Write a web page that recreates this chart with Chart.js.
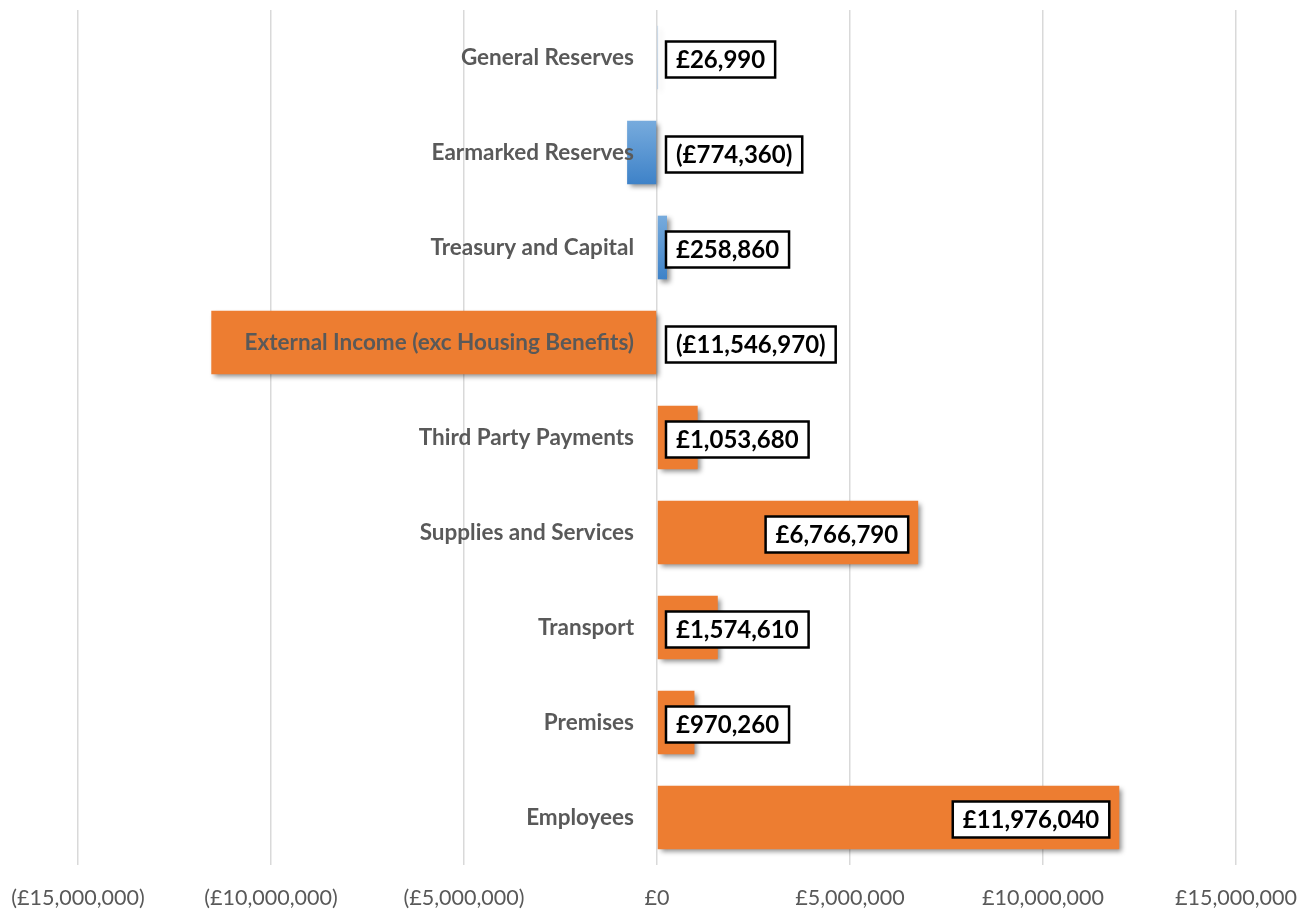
<!DOCTYPE html>
<html>
<head>
<meta charset="utf-8">
<script src="https://cdn.jsdelivr.net/npm/chart.js@4.4.1/dist/chart.umd.min.js"></script>
<style>
  html, body { margin: 0; padding: 0; background: #fff; }
  #wrap { width: 1316px; height: 911px; }
</style>
</head>
<body>
<div id="wrap"><canvas id="budget" width="1316" height="911"></canvas></div>
<script>
// categories top to bottom
const categories = [
  'General Reserves',
  'Earmarked Reserves',
  'Treasury and Capital',
  'External Income (exc Housing Benefits)',
  'Third Party Payments',
  'Supplies and Services',
  'Transport',
  'Premises',
  'Employees'
];
// blue group (reserves / financing)
const reserveValues = [26990, -774360, 258860, null, null, null, null, null, null];
// orange group (service budget)
const serviceValues = [null, null, null, -11546970, 1053680, 6766790, 1574610, 970260, 11976040];
const xTickValues = [-15000000, -10000000, -5000000, 0, 5000000, 10000000, 15000000];

const FONT = 'Lato, "Open Sans", sans-serif';
const BAR_PCT = 0.67;

function money(v) {
  const s = '£' + Math.abs(v).toLocaleString('en-GB');
  return v < 0 ? '(' + s + ')' : s;
}

function blueGradient(context) {
  const chart = context.chart;
  const y = chart.scales.y;
  if (!chart.chartArea || !y) return '#5b9bd5';
  const c = y.getPixelForValue(context.dataIndex);
  const h = y.height / categories.length * BAR_PCT / 2;
  const g = chart.ctx.createLinearGradient(0, c - h, 0, c + h);
  g.addColorStop(0, '#77abdd');
  g.addColorStop(1, '#3e82c8');
  return g;
}

// soft drop shadow under the bars
const barShadow = {
  id: 'barShadow',
  beforeDatasetDraw(chart) {
    const ctx = chart.ctx;
    ctx.save();
    ctx.shadowColor = 'rgba(0,0,0,0.45)';
    ctx.shadowBlur = 5;
    ctx.shadowOffsetX = 3;
    ctx.shadowOffsetY = 3;
  },
  afterDatasetDraw(chart) {
    chart.ctx.restore();
  }
};

// category names sit just left of the zero line, over the bars
const categoryLabels = {
  id: 'categoryLabels',
  afterDatasetsDraw(chart) {
    const ctx = chart.ctx;
    const y = chart.scales.y;
    const zero = chart.scales.x.getPixelForValue(0);
    ctx.save();
    ctx.font = 'bold 22.5px ' + FONT;
    ctx.fillStyle = '#595959';
    ctx.textAlign = 'right';
    ctx.textBaseline = 'middle';
    y.ticks.forEach((t, i) => {
      ctx.fillText(chart.data.labels[t.value], zero - 23, y.getPixelForTick(i));
    });
    ctx.restore();
  }
};

// boxed value labels
const valueBoxes = {
  id: 'valueBoxes',
  afterDraw(chart) {
    const ctx = chart.ctx;
    const zero = chart.scales.x.getPixelForValue(0);
    ctx.save();
    ctx.font = 'bold 24px ' + FONT;
    ctx.textBaseline = 'middle';
    ctx.textAlign = 'left';
    chart.data.datasets.forEach((ds, di) => {
      const meta = chart.getDatasetMeta(di);
      meta.data.forEach((bar, i) => {
        const v = ds.data[i];
        if (v === null || v === undefined) return;
        const text = money(v);
        const tw = ctx.measureText(text).width;
        const bw = tw + 20, bh = 36;
        let left;
        if (v > 0 && (bar.x - zero) > bw + 20) {
          left = bar.x - 10 - bw;
        } else {
          left = zero + 9;
        }
        const top = bar.y - bh / 2 + 2;
        ctx.fillStyle = '#ffffff';
        ctx.fillRect(left, top, bw, bh);
        ctx.lineWidth = 2.5;
        ctx.strokeStyle = '#000000';
        ctx.strokeRect(left, top, bw, bh);
        ctx.fillStyle = '#000000';
        ctx.fillText(text, left + 10, top + bh / 2 + 1);
      });
    });
    ctx.restore();
  }
};

new Chart(document.getElementById('budget'), {
  type: 'bar',
  data: {
    labels: categories,
    datasets: [
      {
        label: 'Reserves',
        data: reserveValues,
        backgroundColor: blueGradient,
        borderWidth: 0,
        categoryPercentage: 1,
        barPercentage: BAR_PCT
      },
      {
        label: 'Budget',
        data: serviceValues,
        backgroundColor: '#ed7d31',
        borderWidth: 0,
        categoryPercentage: 1,
        barPercentage: BAR_PCT
      }
    ]
  },
  options: {
    indexAxis: 'y',
    responsive: false,
    animation: false,
    layout: {
      padding: { top: 10, left: 78, right: 80, bottom: 0 }
    },
    plugins: {
      legend: { display: false },
      tooltip: { enabled: false }
    },
    scales: {
      x: {
        min: -15000000,
        max: 15000000,
        afterBuildTicks(scale) {
          scale.ticks = xTickValues.map(v => ({ value: v }));
        },
        afterFit(scale) {
          // let the outer labels hang past the plot edges like the original
          scale.paddingLeft = 0;
          scale.paddingRight = 0;
          scale.height = 46;
        },
        grid: { color: '#d9d9d9', lineWidth: 1.5, drawTicks: false },
        border: { display: false },
        ticks: {
          padding: 20,
          color: '#595959',
          font: { family: FONT, size: 21.5 },
          maxRotation: 0,
          callback: v => money(v)
        }
      },
      y: {
        stacked: true,
        display: false
      }
    }
  },
  plugins: [barShadow, categoryLabels, valueBoxes]
});
</script>
</body>
</html>
